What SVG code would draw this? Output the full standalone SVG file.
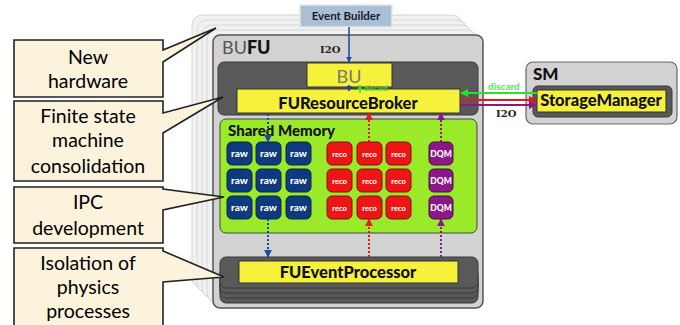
<svg xmlns="http://www.w3.org/2000/svg" width="680" height="325" viewBox="0 0 680 325">
  <style>
    .callout { fill: #fbf3dc; stroke: #222; stroke-width: 1.6; }
    .ctext { font-family: Lato, "Open Sans", sans-serif; font-size: 19.5px; fill: #000; text-anchor: middle; }
    .layer { fill: #f1f1f1; stroke: #d6d6d6; stroke-width: 1; }
    .frame { fill: #d2d2d2; stroke: #555; stroke-width: 1.5; }
    .dark { fill: #595959; stroke: #3a3a3a; stroke-width: 1; }
    .yellow { fill: #f6f23c; stroke: #333; stroke-width: 1; }
    .ytext { font-family: Lato, "Open Sans", sans-serif; font-weight: 900; font-size: 16.5px; fill: #111; text-anchor: middle; }
    .lbl { font-family: Lato, "Open Sans", sans-serif; font-weight: 900; fill: #111; }
    .i2o { font-family: "DejaVu Serif", serif; font-weight: bold; font-size: 10px; fill: #222; }
    .raw { fill: #0e3a7e; stroke: #0a2550; stroke-width: 1; }
    .reco { fill: #ee1515; stroke: #8a0a0a; stroke-width: 1; }
    .dqm { fill: #8a1888; stroke: #4a0a48; stroke-width: 1; }
    .btext { font-family: Lato, "Open Sans", sans-serif; font-weight: 900; fill: #fff; text-anchor: middle; }
    .dot { fill: none; stroke-width: 2; stroke-dasharray: 2 2; }
  </style>
  <defs>
    <marker id="ahBlue" viewBox="0 0 10 10" refX="9" refY="5" markerWidth="4" markerHeight="4" orient="auto">
      <path d="M0,0 L10,5 L0,10 Z" fill="#1a4a9a"/>
    </marker>
    <marker id="ahRed" viewBox="0 0 10 10" refX="9" refY="5" markerWidth="4" markerHeight="4" orient="auto">
      <path d="M0,0 L10,5 L0,10 Z" fill="#e81818"/>
    </marker>
    <marker id="ahPurple" viewBox="0 0 10 10" refX="9" refY="5" markerWidth="4" markerHeight="4" orient="auto">
      <path d="M0,0 L10,5 L0,10 Z" fill="#8a1888"/>
    </marker>
    <marker id="ahGreen" viewBox="0 0 10 10" refX="9" refY="5" markerWidth="4" markerHeight="4" orient="auto">
      <path d="M0,0 L10,5 L0,10 Z" fill="#2ee02e"/>
    </marker>
  </defs>

  <!-- stacked BUFU instances behind the main one -->
  <g id="bufu-stack">
    <rect class="layer" x="192" y="15" width="270" height="273" rx="10"/>
    <rect class="layer" x="197" y="20" width="270" height="273" rx="10"/>
    <rect class="layer" x="202" y="25" width="270" height="273" rx="10"/>
    <rect class="layer" x="207" y="30" width="270" height="273" rx="10"/>
  </g>

  <!-- main BUFU node -->
  <g id="bufu">
    <rect class="frame" x="213" y="35" width="270" height="273" rx="7"/>
    <text x="222" y="54" font-family="Lato, 'Open Sans', sans-serif" font-size="18" fill="#555">BU<tspan font-weight="900" fill="#111">FU</tspan></text>
    <text class="i2o" x="320" y="53">I2O</text>
  </g>

  <g id="event-builder">
    <rect x="300" y="5" width="92" height="22" fill="#a9bfd6" stroke="#e8e8e8" stroke-width="1.5"/>
    <text x="346" y="20" text-anchor="middle" font-family="Lato, 'Open Sans', sans-serif" font-weight="bold" font-size="11.5" fill="#1a1a2a">Event Builder</text>
  </g>

  <g id="bu-rb-panel">
    <rect class="dark" x="218" y="62" width="260" height="53" rx="6"/>
  </g>

  <g id="bu">
    <rect class="yellow" x="307" y="63" width="85" height="24"/>
    <text x="349" y="83" text-anchor="middle" font-family="Lato, 'Open Sans', sans-serif" font-size="18" fill="#777">BU</text>
  </g>

  <g id="resource-broker">
    <rect class="yellow" x="237" y="89" width="223" height="24"/>
    <text class="ytext" x="348" y="109">FUResourceBroker</text>
  </g>

  <g id="shared-memory">
    <rect x="220" y="119" width="257" height="114" rx="6" fill="#9bea2a" stroke="#444" stroke-width="1"/>
    <text class="lbl" x="228" y="136" font-size="15">Shared Memory</text>
  </g>

  <g id="raw-cells">
    <rect class="raw" x="227" y="142" width="25" height="23" rx="5"/>
    <rect class="raw" x="256" y="142" width="25" height="23" rx="5"/>
    <rect class="raw" x="286" y="142" width="25" height="23" rx="5"/>
    <rect class="raw" x="227" y="169" width="25" height="23" rx="5"/>
    <rect class="raw" x="256" y="169" width="25" height="23" rx="5"/>
    <rect class="raw" x="286" y="169" width="25" height="23" rx="5"/>
    <rect class="raw" x="227" y="196" width="25" height="23" rx="5"/>
    <rect class="raw" x="256" y="196" width="25" height="23" rx="5"/>
    <rect class="raw" x="286" y="196" width="25" height="23" rx="5"/>
    <g class="btext" font-size="10">
      <text x="239.5" y="157">raw</text><text x="268.5" y="157">raw</text><text x="298.5" y="157">raw</text>
      <text x="239.5" y="184">raw</text><text x="268.5" y="184">raw</text><text x="298.5" y="184">raw</text>
      <text x="239.5" y="211">raw</text><text x="268.5" y="211">raw</text><text x="298.5" y="211">raw</text>
    </g>
  </g>

  <g id="reco-cells">
    <rect class="reco" x="327" y="142" width="25" height="23" rx="5"/>
    <rect class="reco" x="357" y="142" width="25" height="23" rx="5"/>
    <rect class="reco" x="386" y="142" width="25" height="23" rx="5"/>
    <rect class="reco" x="327" y="169" width="25" height="23" rx="5"/>
    <rect class="reco" x="357" y="169" width="25" height="23" rx="5"/>
    <rect class="reco" x="386" y="169" width="25" height="23" rx="5"/>
    <rect class="reco" x="327" y="196" width="25" height="23" rx="5"/>
    <rect class="reco" x="357" y="196" width="25" height="23" rx="5"/>
    <rect class="reco" x="386" y="196" width="25" height="23" rx="5"/>
    <g class="btext" font-size="7.5">
      <text x="339.5" y="156.5">reco</text><text x="369.5" y="156.5">reco</text><text x="398.5" y="156.5">reco</text>
      <text x="339.5" y="183.5">reco</text><text x="369.5" y="183.5">reco</text><text x="398.5" y="183.5">reco</text>
      <text x="339.5" y="210.5">reco</text><text x="369.5" y="210.5">reco</text><text x="398.5" y="210.5">reco</text>
    </g>
  </g>

  <g id="dqm-cells">
    <rect class="dqm" x="429" y="142" width="24" height="23" rx="5"/>
    <rect class="dqm" x="429" y="169" width="24" height="23" rx="5"/>
    <rect class="dqm" x="429" y="196" width="24" height="23" rx="5"/>
    <g class="btext" font-size="8.5">
      <text x="441" y="156.5">DQM</text>
      <text x="441" y="183.5">DQM</text>
      <text x="441" y="210.5">DQM</text>
    </g>
  </g>

  <g id="event-processor">
    <rect class="dark" x="220" y="277" width="258" height="26" rx="6"/>
    <rect class="dark" x="220" y="272" width="258" height="26" rx="6"/>
    <rect class="dark" x="220" y="267" width="258" height="26" rx="6"/>
    <rect class="dark" x="220" y="257" width="258" height="31" rx="6"/>
    <rect class="yellow" x="239" y="261" width="219" height="22"/>
    <text class="ytext" x="348" y="278">FUEventProcessor</text>
  </g>

  <g id="sm">
    <rect x="526" y="62" width="151" height="62" rx="7" fill="#d2d2d2" stroke="#666" stroke-width="1.2"/>
    <text class="lbl" x="533" y="80" font-size="17">SM</text>
    <rect class="dark" x="533" y="86" width="139" height="31" rx="5"/>
    <rect class="yellow" x="537" y="90" width="129" height="22"/>
    <text class="ytext" x="601" y="106" font-size="14.5">StorageManager</text>
  </g>

  <!-- connectors -->
  <g id="connectors">
    <line x1="349" y1="27" x2="349" y2="62" stroke="#1a4a9a" stroke-width="1.5" marker-end="url(#ahBlue)"/>
    <line x1="349" y1="85" x2="349" y2="91" stroke="#1a4a9a" stroke-width="1.5" marker-end="url(#ahBlue)"/>
    <line x1="360" y1="93" x2="360" y2="85" stroke="#2ee02e" stroke-width="1.5" marker-end="url(#ahGreen)"/>
    <text x="364" y="90.5" font-family="Lato, 'Open Sans', sans-serif" font-size="7.5" font-weight="bold" fill="#3de03d">discard</text>

    <path class="dot" d="M268,114 V142" stroke="#1a4a9a" marker-end="url(#ahBlue)"/>
    <path class="dot" d="M268,219 V257" stroke="#1a4a9a" marker-end="url(#ahBlue)"/>
    <path class="dot" d="M369,142 V113" stroke="#e81818" marker-end="url(#ahRed)"/>
    <path class="dot" d="M369,257 V219" stroke="#e81818" marker-end="url(#ahRed)"/>
    <path class="dot" d="M441,142 V113" stroke="#8a1888" marker-end="url(#ahPurple)"/>
    <path class="dot" d="M441,257 V219" stroke="#8a1888" marker-end="url(#ahPurple)"/>

    <line x1="537" y1="93" x2="461" y2="93" stroke="#2ee02e" stroke-width="2" marker-end="url(#ahGreen)"/>
    <text x="488" y="90" font-family="Lato, 'Open Sans', sans-serif" font-size="10" font-weight="bold" fill="#5ee05e">discard</text>
    <line x1="460" y1="100" x2="536" y2="100" stroke="#e81818" stroke-width="2" marker-end="url(#ahRed)"/>
    <line x1="460" y1="105" x2="536" y2="105" stroke="#8a1888" stroke-width="2" marker-end="url(#ahPurple)"/>
    <text class="i2o" x="496" y="117">I2O</text>
  </g>

  <!-- callouts -->
  <g id="callout-hardware">
    <path class="callout" d="M14,40 H163 V50 L216,28 L163,62 V97 H14 Z"/>
    <text class="ctext" x="88" y="64">New</text>
    <text class="ctext" x="88" y="88">hardware</text>
  </g>
  <g id="callout-fsm">
    <path class="callout" d="M14,101 H163 V113 L223,97 L163,133 V181 H14 Z"/>
    <text class="ctext" x="88" y="123">Finite state</text>
    <text class="ctext" x="88" y="147">machine</text>
    <text class="ctext" x="88" y="173">consolidation</text>
  </g>
  <g id="callout-ipc">
    <path class="callout" d="M14,187 H163 V189 L224,197 L163,210 V243 H14 Z"/>
    <text class="ctext" x="88" y="209">IPC</text>
    <text class="ctext" x="88" y="235">development</text>
  </g>
  <g id="callout-isolation">
    <path class="callout" d="M14,248 H163 V251 L224,277 L163,282 V332 H14 Z"/>
    <text class="ctext" x="88" y="270">Isolation of</text>
    <text class="ctext" x="88" y="294">physics</text>
    <text class="ctext" x="88" y="318">processes</text>
  </g>
</svg>
